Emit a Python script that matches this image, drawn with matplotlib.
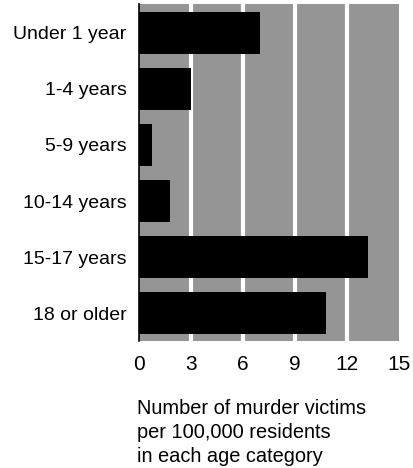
import matplotlib.pyplot as plt

plt.rcParams['font.family'] = ['Liberation Sans', 'DejaVu Sans']

categories = ["Under 1 year", "1-4 years", "5-9 years", "10-14 years",
              "15-17 years", "18 or older"]
rates = [7.0, 3.0, 0.75, 1.8, 13.2, 10.8]
xticks = [0, 3, 6, 9, 12, 15]

fig = plt.figure(figsize=(4.13, 4.68), dpi=100)
ax = fig.add_axes([0.3366, 0.2703, 0.6294, 0.7201])

ax.set_facecolor("#959595")
for x in xticks[1:-1]:
    ax.axvline(x, color="white", linewidth=3, zorder=1)

ypos = list(range(len(categories)))
ax.barh(ypos, rates, height=0.75, color="black", zorder=2)

ax.set_xlim(0, 15)
ax.set_ylim(5.5, -0.5)
ax.set_yticks(ypos)
ax.set_yticklabels(categories, fontsize=14)
ax.set_xticks(xticks)
ax.set_xticklabels([str(t) for t in xticks], fontsize=15)
ax.tick_params(axis='both', length=0)
ax.tick_params(axis='x', pad=10)
ax.tick_params(axis='y', pad=9)

for s in ["top", "right", "bottom"]:
    ax.spines[s].set_visible(False)
ax.spines["left"].set_linewidth(1.2)

fig.text(137 / 413, 1 - 399 / 468,
         "Number of murder victims\nper 100,000 residents\nin each age category",
         fontsize=14.4, ha="left", va="top", linespacing=1.33)

fig.savefig("out.png", dpi=100)
plt.close(fig)
